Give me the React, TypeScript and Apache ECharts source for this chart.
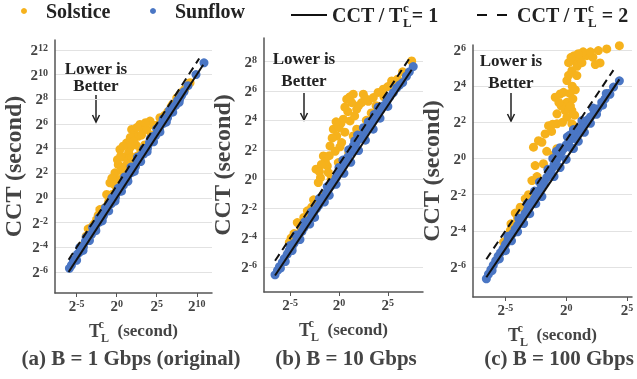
import React, { useEffect, useRef } from 'react';
import * as echarts from 'echarts';

// ---- data (log2 seconds) ----
const solsticeA: [number, number][] = [
  [-4.4, -3.9], [-3.55, -2.5], [-3.0, -2.3], [-2.5, -1.75], [-2.1, -0.94], [-1.7, -1.0], [-1.25, 0.28],
  [-0.84, 1.23], [-0.5, 0.3], [-0.21, 2.04], [0.2, 2.7], [0.41, 3.93], [0.6, 2.2], [0.9, 3.3], [1.25, 4.47],
  [1.66, 4.06], [1.87, 5.55], [1.5, 3.7], [2.2, 5.2], [2.7, 5.0], [2.9, 5.96], [3.3, 5.5], [3.75, 5.55],
  [4.16, 6.23], [4.6, 5.9], [5.4, 6.5], [5.9, 6.5], [6.4, 7.0], [7.0, 7.6], [7.9, 8.4], [8.5, 8.8],
  [9.16, 9.34], [1.0, 1.9], [2.0, 2.9], [3.0, 3.9], [-1.5, -0.8], [0.0, 0.8], [2.4, 4.3], [1.1, 2.6],
  [0.3, 1.5], [0.8, 4.2], [1.3, 3.2], [2.5, 5.7], [3.6, 6.1], [0.1, 3.1], [-0.6, 1.6], [1.7, 4.9],
  [2.1, 4.6], [3.1, 5.1], [0.5, 3.4], [-0.3, 1.1], [1.9, 3.3], [-3.8, -3.1], [-3.3, -2.6], [-2.8, -2.1],
  [-2.3, -1.4], [-1.9, -1.2], [-1.0, -0.3], [0.7, 1.4], [1.6, 2.4], [2.6, 3.4], [3.5, 4.3], [4.3, 5.1],
  [5.1, 5.9], [6.0, 6.7], [6.8, 7.4], [7.5, 8.1], [8.2, 8.6]
];
const sunflowA: [number, number][] = [
  [-5.9, -5.7], [-5.65, -5.45], [-5.4, -5.1], [-5.15, -4.95], [-4.9, -4.55], [-4.65, -4.4], [-4.4, -4.0],
  [-4.15, -3.95], [-3.9, -3.5], [-3.65, -3.45], [-3.4, -3.0], [-3.15, -2.95], [-2.9, -2.5], [-2.65, -2.45],
  [-2.4, -2.0], [-2.15, -1.95], [-1.9, -1.5], [-1.65, -1.45], [-1.4, -1.0], [-1.15, -0.95], [-0.9, -0.5],
  [-0.65, -0.45], [-0.4, 0.0], [-0.15, 0.05], [0.1, 0.5], [0.35, 0.55], [0.6, 1.0], [0.85, 1.05],
  [1.1, 1.5], [1.35, 1.55], [1.6, 2.0], [1.85, 2.05], [2.1, 2.5], [2.35, 2.55], [2.6, 3.0], [2.85, 3.05],
  [3.1, 3.5], [3.35, 3.55], [3.6, 4.0], [3.85, 4.05], [4.1, 4.5], [4.35, 4.55], [4.6, 5.0], [4.85, 5.05],
  [5.1, 5.5], [5.35, 5.55], [5.6, 6.0], [5.85, 6.05], [6.1, 6.4], [6.35, 6.5], [6.6, 6.9], [6.85, 7.0],
  [7.1, 7.4], [7.35, 7.5], [7.6, 7.9], [7.85, 8.0], [8.1, 8.3], [8.4, 8.6], [8.9, 9.1], [9.9, 10.0],
  [10.9, 10.95], [-5.0, -5.05], [-4.2, -4.25], [-3.4, -3.45], [-2.6, -2.65], [-1.8, -1.85], [-1.0, -1.05],
  [-0.2, -0.25], [0.6, 0.55], [1.4, 1.35], [2.2, 2.15], [3.0, 2.95], [3.8, 3.75], [4.6, 4.55], [5.4, 5.35],
  [6.2, 6.15], [7.0, 6.95], [7.8, 7.75], [-4.6, -4.0], [-3.8, -3.2], [-3.0, -2.4], [-2.2, -1.6],
  [-1.4, -0.8], [-0.6, 0.0], [0.2, 0.8], [1.0, 1.7], [1.8, 2.5], [2.6, 3.3], [3.4, 4.0], [4.2, 4.8],
  [5.0, 5.6], [5.8, 6.4], [6.6, 7.1]
];
const solsticeB: [number, number][] = [
  [-5.09, -4.3], [-4.6, -3.7], [-4.27, -2.95], [-3.9, -3.3], [-3.24, -2.15], [-2.8, -1.9], [-2.35, 0.68],
  [-2.12, -0.23], [-1.9, 0.1], [-1.6, 1.58], [-1.43, -1.02], [-1.2, 0.9], [-0.92, 2.26], [-0.58, 3.4],
  [-0.24, 2.94], [0.27, 2.49], [0.44, 4.08], [0.79, 5.44], [1.1, 5.6], [1.46, 5.78], [1.81, 4.76],
  [2.32, 5.21], [2.49, 5.78], [3.0, 5.3], [3.51, 5.55], [4.0, 5.9], [4.53, 6.12], [5.0, 6.3], [5.39, 6.68],
  [6.0, 6.8], [6.52, 7.3], [7.44, 8.04], [1.13, 3.96], [1.81, 3.4], [1.46, 2.94], [-0.07, 1.13],
  [-1.1, 0.45], [0.6, 3.2], [0.2, 3.8], [-0.4, 1.9], [2.8, 4.0], [3.3, 4.5], [2.2, 3.1], [1.0, 1.8],
  [-0.8, 0.0], [4.2, 4.9], [-1.4, 1.2], [0.0, 3.5], [1.6, 4.3], [2.0, 5.0], [-1.8, 1.0], [-1.0, 1.6],
  [-0.7, 2.8], [0.1, 2.2], [0.9, 4.6], [1.3, 5.2], [2.7, 5.5], [3.8, 5.0], [4.6, 5.6], [-2.6, -1.4],
  [-3.6, -2.6], [-4.9, -4.0], [-2.0, 0.5], [-0.3, 3.9], [0.6, 4.9], [5.8, 6.5]
];
const sunflowB: [number, number][] = [
  [-6.55, -6.5], [-6.3, -6.2], [-6.1, -5.95], [-5.8, -5.65], [-5.6, -5.4], [-5.3, -5.1], [-5.1, -4.85],
  [-4.8, -4.6], [-4.6, -4.35], [-4.3, -4.05], [-4.1, -3.8], [-3.8, -3.55], [-3.6, -3.3], [-3.3, -3.05],
  [-3.1, -2.8], [-2.8, -2.55], [-2.6, -2.3], [-2.3, -2.0], [-2.1, -1.8], [-1.8, -1.5], [-1.6, -1.25],
  [-1.3, -0.95], [-1.1, -0.7], [-0.8, -0.45], [-0.6, -0.2], [-0.3, 0.1], [-0.1, 0.35], [0.2, 0.65],
  [0.4, 0.9], [0.7, 1.2], [0.9, 1.5], [1.2, 1.8], [1.46, 2.26], [1.7, 2.4], [2.0, 2.7], [2.3, 3.0],
  [2.6, 3.2], [2.84, 3.4], [3.1, 3.6], [3.4, 3.85], [3.7, 4.1], [4.0, 4.45], [4.3, 4.75], [4.53, 4.98],
  [4.9, 5.3], [5.2, 5.6], [5.57, 5.89], [5.9, 6.2], [6.2, 6.4], [6.52, 6.57], [6.9, 7.0], [7.2, 7.3],
  [7.6, 7.66], [-5.5, -5.6], [-4.0, -4.1], [-2.5, -2.6], [-1.0, -1.1], [0.5, 0.4], [2.0, 1.95],
  [3.5, 3.4], [5.0, 4.95], [-3.5, -2.9], [-2.0, -1.3], [0.0, 0.8], [1.0, 2.0], [2.5, 3.5], [4.0, 4.9],
  [-6.0, -6.05], [-4.8, -4.85], [-3.0, -3.05], [-1.5, -1.55], [-0.3, -0.35], [1.2, 1.15], [2.7, 2.65],
  [4.2, 4.15], [-5.0, -4.5], [-4.4, -3.8], [-2.8, -2.2], [-1.2, -0.5], [0.4, 1.3], [1.6, 2.6], [3.0, 3.9],
  [1.9, 3.0], [3.6, 4.4]
];
const solsticeC: [number, number][] = [
  [-5.15, -4.62], [-4.6, -3.98], [-4.54, -3.61], [-4.19, -3.02], [-3.78, -2.69], [-3.37, -2.23],
  [-2.82, -1.22], [-2.55, -0.39], [-1.87, -0.29], [-2.69, 0.63], [-2.28, 0.99], [-1.73, 1.36],
  [-1.45, 1.82], [-0.76, 1.92], [-0.76, 0.54], [-0.9, 3.39], [-0.49, 3.57], [-0.22, 3.66], [0.06, 3.11],
  [0.47, 2.65], [0.47, 1.92], [0.6, 1.55], [0.06, 4.31], [0.47, 4.86], [0.66, 5.41], [0.66, 5.69],
  [1.15, 5.5], [1.7, 5.69], [2.79, 5.29], [2.65, 5.97], [3.34, 6.06], [4.38, 6.24], [0.88, 4.59],
  [0.06, 2.28], [-0.76, 2.47], [-0.08, 2.65], [0.3, 3.6], [0.5, 4.0], [0.9, 5.1], [1.4, 5.9], [2.2, 5.6],
  [0.2, 5.3], [-1.2, 1.5], [-0.4, 2.9], [0.7, 2.4], [0.3, 1.2], [-1.0, 0.2], [0.55, 3.3], [-0.6, 3.1],
  [0.2, 4.6], [0.4, 5.6], [1.0, 5.8], [1.3, 5.3], [0.75, 3.8], [0.35, 2.9], [-0.3, 2.0], [-1.1, 1.9],
  [-2.0, 0.9], [-3.1, -2.0], [-4.0, -3.3], [-2.4, -1.0], [-1.6, 0.4], [2.0, 5.9], [2.4, 5.2]
];
const sunflowC: [number, number][] = [
  [-6.57, -6.65], [-6.4, -6.4], [-6.2, -6.15], [-6.0, -5.9], [-5.8, -5.65], [-5.6, -5.4], [-5.4, -5.2],
  [-5.2, -5.0], [-5.0, -4.75], [-4.8, -4.55], [-4.6, -4.35], [-4.4, -4.15], [-4.2, -3.9], [-4.0, -3.7],
  [-3.8, -3.5], [-3.6, -3.3], [-3.4, -3.05], [-3.2, -2.85], [-3.0, -2.6], [-2.8, -2.4], [-2.6, -2.2],
  [-2.4, -2.0], [-2.2, -1.75], [-2.0, -1.5], [-1.8, -1.3], [-1.6, -1.05], [-1.4, -0.8], [-1.2, -0.6],
  [-1.0, -0.35], [-0.8, -0.1], [-0.6, 0.1], [-0.4, 0.35], [-0.2, 0.55], [0.0, 0.75], [0.2, 0.9],
  [0.33, 0.62], [0.5, 1.1], [0.7, 1.25], [0.88, 1.36], [1.0, 1.6], [1.2, 1.7], [1.4, 1.85], [1.6, 2.0],
  [1.8, 2.15], [2.0, 2.3], [2.3, 2.5], [2.6, 2.75], [2.93, 3.11], [3.2, 3.3], [3.5, 3.6], [3.9, 3.95],
  [4.38, 4.3], [-5.0, -5.1], [-3.5, -3.6], [-2.0, -2.1], [-0.5, -0.5], [1.0, 0.95], [2.5, 2.45],
  [-1.5, -0.6], [-0.5, 0.6], [0.3, 1.3], [-6.1, -6.2], [-5.5, -5.55], [-4.5, -4.55], [-4.0, -4.05],
  [-3.0, -3.05], [-2.5, -2.5], [-1.0, -1.0], [0.0, -0.05], [0.6, 0.55], [1.5, 1.45], [2.0, 1.95],
  [3.0, 2.95], [3.6, 3.55], [-4.8, -4.3], [-3.9, -3.3], [-3.2, -2.5], [-2.6, -1.8], [-2.2, -1.3],
  [-1.1, 0.0], [-0.8, 0.4], [0.1, 1.2], [0.6, 1.6], [1.3, 2.1], [2.2, 2.8], [3.3, 3.6]
];

// reference-line extents on x (log2)
const ratio1Ext = [[-6.0, 10.8], [-6.55, 7.44], [-6.57, 4.38]];
const ratio2Ext = [[-6.0, 10.3], [-6.55, 7.44], [-6.57, 3.89]];

const xTicks = [[-5, 0, 5, 10], [-5, 0, 5], [-5, 0, 5]];
const yTicks = [
  [-6, -4, -2, 0, 2, 4, 6, 8, 10, 12],
  [-6, -4, -2, 0, 2, 4, 6, 8],
  [-6, -4, -2, 0, 2, 4, 6]
];
const captions = ['(a) B = 1 Gbps (original)', '(b) B = 10 Gbps', '(c) B = 100 Gbps'];

const FONT = '"Liberation Serif", "Times New Roman", serif';
const ORANGE = '#F6B21C';
const BLUE = '#4A76C4';

const panels = [
  { left: 55, top: 40, width: 157, height: 253, xMin: -7.7, xMax: 11.9, yMin: -7.7, yMax: 12.8, capX: 131, arrowX: 96, ann1: 68, ann2: 85, arTop: 95, arBot: 122, yNameGap: 30 },
  { left: 264, top: 38, width: 159, height: 254, xMin: -7.68, xMax: 8.6, yMin: -7.67, yMax: 9.6, capX: 346, arrowX: 304, ann1: 58, ann2: 80, arTop: 93, arBot: 120, yNameGap: 30 },
  { left: 473, top: 45, width: 159, height: 252, xMin: -7.67, xMax: 5.42, yMin: -7.66, yMax: 6.28, capX: 559, arrowX: 511, ann1: 60, ann2: 82, arTop: 93, arBot: 121, yNameGap: 30 }
];

const tickRich = {
  b: { fontFamily: FONT, fontWeight: 'bold', fontSize: 15, color: '#444' },
  s: { fontFamily: FONT, fontWeight: 'bold', fontSize: 10, color: '#444', verticalAlign: 'top' }
};
const pow = (v: number) => `{b|2}{s|${Math.round(v)}}`;

const nameRich = {
  t: { fontFamily: FONT, fontWeight: 'bold', fontSize: 18, color: '#444', lineHeight: 26 },
  sup: { fontFamily: FONT, fontWeight: 'bold', fontSize: 12, color: '#444', width: 0, verticalAlign: 'top', lineHeight: 12 },
  sub: { fontFamily: FONT, fontWeight: 'bold', fontSize: 12, color: '#444', verticalAlign: 'bottom', lineHeight: 12 },
  n: { fontFamily: FONT, fontWeight: 'bold', fontSize: 17, color: '#444', lineHeight: 26 }
};

const legendRich = {
  b: { fontFamily: FONT, fontWeight: 'bold', fontSize: 20, color: '#222', lineHeight: 28 },
  sup: { fontFamily: FONT, fontWeight: 'bold', fontSize: 13, color: '#222', width: 0, verticalAlign: 'top', lineHeight: 14 },
  sub: { fontFamily: FONT, fontWeight: 'bold', fontSize: 13, color: '#222', verticalAlign: 'bottom', lineHeight: 14 }
};

export default function App() {
  const ref = useRef<HTMLDivElement>(null);
  useEffect(() => {
    const chart = echarts.init(ref.current!, null, { renderer: 'svg' });
    const solstice = [solsticeA, solsticeB, solsticeC];
    const sunflow = [sunflowA, sunflowB, sunflowC];
    const series: any[] = [];
    panels.forEach((p, i) => {
      series.push({
        name: 'grid' + i, type: 'line', xAxisIndex: i, yAxisIndex: i, data: [], z: 0, silent: true,
        markLine: {
          silent: true, symbol: 'none', label: { show: false }, z: 0,
          lineStyle: { color: '#e2e2e2', width: 1, type: 'solid' },
          data: yTicks[i].map((v) => ({ yAxis: v }))
        }
      });
      series.push({
        name: 'Solstice', type: 'scatter', xAxisIndex: i, yAxisIndex: i, data: solstice[i],
        symbolSize: 9, itemStyle: { color: ORANGE, opacity: 1 }, z: 2
      });
      series.push({
        name: 'Sunflow', type: 'scatter', xAxisIndex: i, yAxisIndex: i, data: sunflow[i],
        symbolSize: 9, itemStyle: { color: BLUE, opacity: 1 }, z: 3
      });
      series.push({
        name: 'ratio1', type: 'line', xAxisIndex: i, yAxisIndex: i, symbol: 'none', z: 6,
        data: ratio1Ext[i].map((x) => [x, x]),
        lineStyle: { color: '#111', width: 2 }, itemStyle: { color: '#111' }
      });
      series.push({
        name: 'ratio2', type: 'line', xAxisIndex: i, yAxisIndex: i, symbol: 'none', z: 6,
        data: ratio2Ext[i].map((x) => [x, x + 1]),
        lineStyle: { color: '#111', width: 2, type: [8, 5] }, itemStyle: { color: '#111' }
      });
    });

    const graphics: any[] = [];
    panels.forEach((p, i) => {
      graphics.push({
        type: 'text', x: p.capX, y: 358,
        style: { text: captions[i], fontFamily: FONT, fontWeight: 'bold', fontSize: 21, fill: '#444', align: 'center', verticalAlign: 'middle' }
      });
      graphics.push({
        type: 'text', x: p.arrowX, y: p.ann1, z: 10,
        style: { text: 'Lower is', fontFamily: FONT, fontWeight: 'bold', fontSize: 17, fill: '#222', align: 'center', verticalAlign: 'middle' }
      });
      graphics.push({
        type: 'text', x: p.arrowX, y: p.ann2, z: 10,
        style: { text: 'Better', fontFamily: FONT, fontWeight: 'bold', fontSize: 17, fill: '#222', align: 'center', verticalAlign: 'middle' }
      });
      graphics.push({
        type: 'line', shape: { x1: p.arrowX, y1: p.arTop, x2: p.arrowX, y2: p.arBot },
        style: { stroke: '#222', lineWidth: 1.5 }
      });
      graphics.push({
        type: 'polyline', shape: { points: [[p.arrowX - 3.5, p.arBot - 7], [p.arrowX, p.arBot], [p.arrowX + 3.5, p.arBot - 7]] },
        style: { stroke: '#222', lineWidth: 1.5, fill: 'none' }
      });
    });

    const baseLegend = {
      top: 1, padding: 0, itemGap: 0, itemHeight: 6,
      textStyle: { fontFamily: FONT, fontWeight: 'bold', fontSize: 20, color: '#222', rich: legendRich }
    };
    const ratioFmt = (name: string) =>
      name === 'ratio1' ? '{b|CCT / T}{sup|c}{sub|L}{b|= 1}' : '{b|CCT / T}{sup|c}{sub|L}{b| = 2}';

    chart.setOption({
      animation: false,
      legend: [
        { ...baseLegend, data: ['Solstice'], left: 21, itemWidth: 34 },
        { ...baseLegend, data: ['Sunflow'], left: 150, itemWidth: 34 },
        { ...baseLegend, data: ['ratio1'], left: 290, itemWidth: 36, formatter: ratioFmt, itemStyle: { opacity: 0 } },
        { ...baseLegend, data: ['ratio2'], left: 476, itemWidth: 35, formatter: ratioFmt, itemStyle: { opacity: 0 }, lineStyle: { type: [10, 10], width: 2 } }
      ],
      grid: panels.map((p) => ({ left: p.left, top: p.top, width: p.width, height: p.height, containLabel: false })),
      xAxis: panels.map((p, i) => ({
        type: 'value', gridIndex: i, min: p.xMin, max: p.xMax,
        axisLine: { show: true, onZero: false, lineStyle: { color: '#555', width: 1.5 } },
        axisTick: { show: true, customValues: xTicks[i], length: 4, lineStyle: { color: '#555' } },
        axisLabel: { customValues: xTicks[i], formatter: pow, rich: tickRich, margin: 5 },
        splitLine: { show: false },
        name: '{t|T}{sup|c}{sub|L}{n|  (second)}', nameLocation: 'middle', nameGap: 24,
        nameTextStyle: { rich: nameRich }
      })),
      yAxis: panels.map((p, i) => ({
        type: 'value', gridIndex: i, min: p.yMin, max: p.yMax,
        axisLine: { show: true, onZero: false, lineStyle: { color: '#555', width: 1.5 } },
        axisTick: { show: false, customValues: yTicks[i] },
        axisLabel: { customValues: yTicks[i], formatter: pow, rich: tickRich, margin: 7 },
        splitLine: { show: false },
        name: 'CCT (second)', nameLocation: 'middle', nameRotate: 90, nameGap: p.yNameGap,
        nameTextStyle: { fontFamily: FONT, fontWeight: 'bold', fontSize: 24, color: '#444' }
      })),
      series,
      graphic: graphics
    });
    return () => chart.dispose();
  }, []);
  return <div ref={ref} style={{ position: 'fixed', left: 0, top: 0, width: 637, height: 379 }} />;
}
